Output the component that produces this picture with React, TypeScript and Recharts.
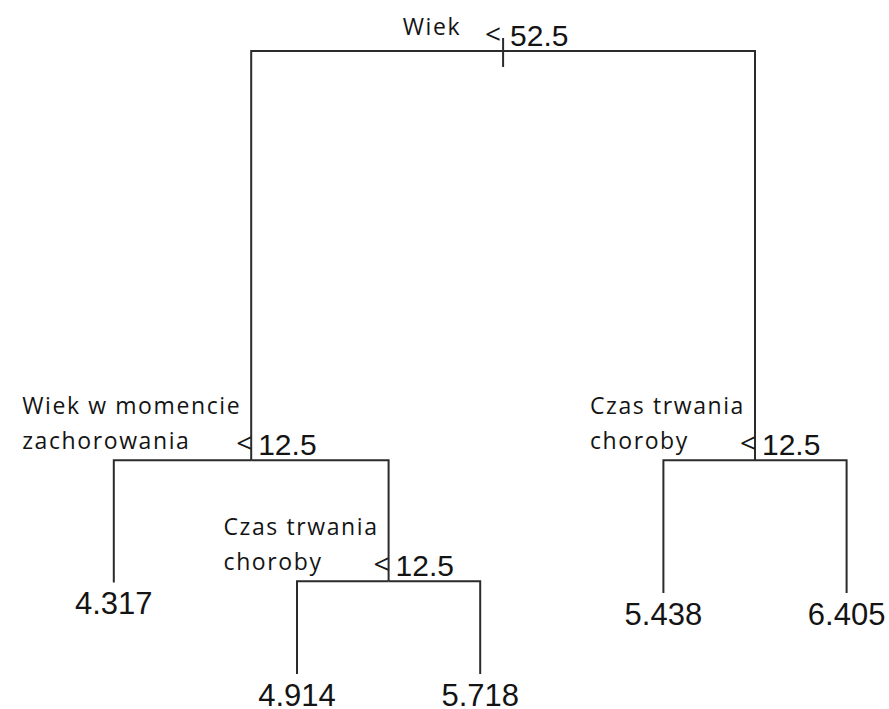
import React, { useLayoutEffect, useRef, useState } from 'react';
import { ComposedChart, Line, Scatter, XAxis, YAxis } from 'recharts';

// ---- Regression tree data -------------------------------------------------
// Split (internal) nodes
const splitIds = ['n1', 'n2', 'n3', 'n4'];
const splitVariables = [
  ['Wiek'],
  ['Wiek w momencie', 'zachorowania'],
  ['Czas trwania', 'choroby'],
  ['Czas trwania', 'choroby'],
];
const splitThresholds = [52.5, 12.5, 12.5, 12.5];
const splitDeviance = [100, 34.3, 14.9, 34.3];
const splitChildren = [
  ['n2', 'n4'],
  ['l1', 'n3'],
  ['l2', 'l3'],
  ['l4', 'l5'],
];

// Terminal nodes (leaves), left to right
const leafIds = ['l1', 'l2', 'l3', 'l4', 'l5'];
const leafValues = [4.317, 4.914, 5.718, 5.438, 6.405];
const leafDeviance = [14.7, 0, 0, 13.0, 13.0];

// ---- Layout from the tree (R tree style: leaves evenly spaced, parent = mean of children)
type NodePos = { x: number; y: number };
const pos: Record<string, NodePos> = {};
leafIds.forEach((id, i) => {
  pos[id] = { x: i + 1, y: leafDeviance[i] };
});
function place(id: string): NodePos {
  if (pos[id]) return pos[id];
  const k = splitIds.indexOf(id);
  const [a, b] = splitChildren[k];
  const pa = place(a);
  const pb = place(b);
  pos[id] = { x: (pa.x + pb.x) / 2, y: splitDeviance[k] };
  return pos[id];
}
splitIds.forEach((id) => place(id));

const edges = splitIds.flatMap((id, k) =>
  splitChildren[k].map((child) => ({
    key: `${id}-${child}`,
    data: [
      { x: pos[id].x, y: pos[id].y },
      { x: pos[child].x, y: pos[id].y },
      { x: pos[child].x, y: pos[child].y },
    ],
  }))
);

const splitPoints = splitIds.map((id, k) => ({
  x: pos[id].x,
  y: pos[id].y,
  lines: splitVariables[k],
  threshold: splitThresholds[k],
  depth: k === 0 ? 0 : 1,
}));

const leafPoints = leafIds.map((id, i) => ({
  x: pos[id].x,
  y: pos[id].y,
  value: leafValues[i],
}));

// ---- Styles -----------------------------------------------------------------
const LINE_COLOR = '#2b2b2b';
const TEXT_COLOR = '#141414';
const LABEL_FONT = '"Open Sans", "Noto Sans", sans-serif';
const NUM_FONT = '"Liberation Sans", Arial, sans-serif';

function SplitLabel(props: any) {
  const { cx, cy, payload } = props;
  const ref = useRef<SVGTextElement>(null);
  const [w, setW] = useState(0);
  useLayoutEffect(() => {
    if (ref.current) {
      const bw = ref.current.getBBox().width;
      if (Math.abs(bw - w) > 0.5) setW(bw);
    }
  });
  const isRoot = payload.depth === 0;
  const gap = isRoot ? 42 : 10;
  const lines: string[] = payload.lines;
  const baselines = lines.length === 1 ? [-16] : [-46, -11];
  return (
    <g>
      {isRoot && (
        <line x1={cx} x2={cx} y1={cy - 13} y2={cy + 16} stroke={LINE_COLOR} strokeWidth={2} />
      )}
      <g transform={`translate(${cx - gap - w}, ${cy})`}>
        <text
          ref={ref}
          fontFamily={LABEL_FONT}
          fontSize={23}
          letterSpacing={1.6}
          fill={TEXT_COLOR}
        >
          {lines.map((ln, i) => (
            <tspan key={i} x={0} y={baselines[i]}>
              {ln}
            </tspan>
          ))}
        </text>
      </g>
      <text
        x={cx - (isRoot ? 10 : 7)}
        y={cy - 7}
        textAnchor="middle"
        fontFamily={LABEL_FONT}
        fontSize={28}
        fill={TEXT_COLOR}
      >
        {'<'}
      </text>
      <text x={cx + 7} y={cy - 5} fontFamily={NUM_FONT} fontSize={30} fill={TEXT_COLOR}>
        {String(payload.threshold)}
      </text>
    </g>
  );
}

function LeafLabel(props: any) {
  const { cx, cy, payload } = props;
  return (
    <text
      x={cx}
      y={cy + 32}
      textAnchor="middle"
      fontFamily={NUM_FONT}
      fontSize={31}
      fill={TEXT_COLOR}
    >
      {payload.value.toFixed(3)}
    </text>
  );
}

export default function App() {
  return (
    <div style={{ position: 'absolute', left: 0, top: 0, background: '#fff' }}>
      <ComposedChart
        width={889}
        height={709}
        margin={{ top: 51, bottom: 35, left: 22.2, right: 5.76 }}
      >
        <XAxis type="number" dataKey="x" domain={[0.5, 5.2]} hide />
        <YAxis type="number" dataKey="y" domain={[0, 100]} hide />
        {edges.map((e) => (
          <Line
            key={e.key}
            data={e.data}
            dataKey="y"
            type="linear"
            stroke={LINE_COLOR}
            strokeWidth={2}
            dot={false}
            activeDot={false}
            isAnimationActive={false}
            legendType="none"
          />
        ))}
        <Scatter data={splitPoints} shape={SplitLabel} isAnimationActive={false} />
        <Scatter data={leafPoints} shape={LeafLabel} isAnimationActive={false} />
      </ComposedChart>
    </div>
  );
}
